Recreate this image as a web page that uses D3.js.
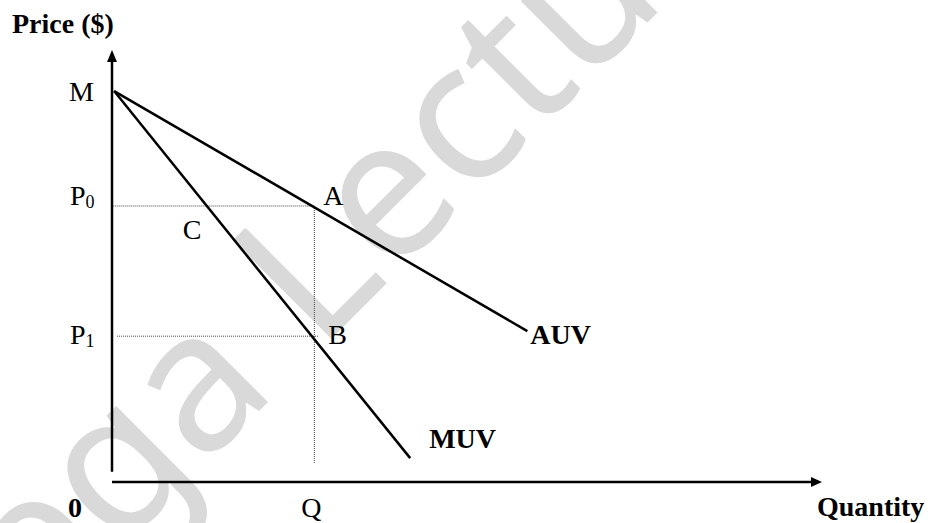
<!DOCTYPE html>
<html>
<head>
<meta charset="utf-8">
<script src="https://cdn.jsdelivr.net/npm/d3@7"></script>
<style>
  body { margin: 0; background: #fff; }
  text { font-family: "Liberation Serif", "Times New Roman", serif; }
</style>
</head>
<body>
<div id="chart"></div>
<script>

// data (price and quantity in arbitrary units)
const priceM = 100;
const priceLevels = [{name: "P", sub: "0", value: 70.6}, {name: "P", sub: "1", value: 37.3}];
const quantityQ = 28.5;
const auvLine = [[0.3, 100], [58.5, 38.6]];
const muvLine = [[0.3, 100], [42, 6.1]];
const curveNames = ["AUV", "MUV"];
const pointNames = ["A", "B", "C"];

const width = 939;
const height = 523;

const svg = d3.select("#chart")
    .append("svg")
    .attr("width", width)
    .attr("height", height)
    .attr("viewBox", [0, 0, width, height]);

const x = d3.scaleLinear().domain([0, 100]).range([112, 822]);
const y = d3.scaleLinear().domain([0, 110.5]).range([482, 50]);

// watermark
const wm = svg.append("g")
    .attr("transform", "translate(318,352) rotate(-45)")
    .attr("fill", "#d9d9d9")
    .style("font-family", "'Noto Sans', sans-serif")
    .style("font-size", "195px");
wm.append("text").attr("x", -55).attr("text-anchor", "end")
    .style("font-family", "'Noto Sans', sans-serif").text("Mega");
wm.append("text").attr("x", 0)
    .style("font-family", "'Noto Sans', sans-serif").text("Lecture");

// dotted guides
const dotted = svg.append("g")
    .attr("stroke", "#444")
    .attr("stroke-width", 1)
    .attr("stroke-dasharray", "1,1");

dotted.append("line")
    .attr("x1", x(0.1)).attr("x2", x(quantityQ))
    .attr("y1", y(priceLevels[0].value)).attr("y2", y(priceLevels[0].value));
dotted.append("line")
    .attr("x1", x(0.7)).attr("x2", x(quantityQ + 0.5))
    .attr("y1", y(priceLevels[1].value)).attr("y2", y(priceLevels[1].value));
dotted.append("line")
    .attr("x1", x(quantityQ)).attr("x2", x(quantityQ))
    .attr("y1", y(priceLevels[0].value)).attr("y2", y(4.9));

// axes
const axes = svg.append("g").attr("stroke", "#000").attr("stroke-width", 2.5);
axes.append("line")
    .attr("x1", x(0)).attr("x2", x(0))
    .attr("y1", y(2.6)).attr("y2", y(107.5));
axes.append("line")
    .attr("x1", x(0)).attr("x2", x(98.5))
    .attr("y1", y(0)).attr("y2", y(0));

svg.append("path")
    .attr("d", `M${x(0)},${y(110.5)} L${x(0) - 5},${y(110.5) + 12} L${x(0) + 5},${y(110.5) + 12} Z`)
    .attr("fill", "#000");
svg.append("path")
    .attr("d", `M${x(100)},${y(0)} L${x(100) - 11},${y(0) - 5} L${x(100) - 11},${y(0) + 5} Z`)
    .attr("fill", "#000");

// curves
const line = d3.line().x(d => x(d[0])).y(d => y(d[1]));
svg.selectAll(".curve")
    .data([auvLine, muvLine])
    .enter()
    .append("path")
    .attr("class", "curve")
    .attr("d", line)
    .attr("fill", "none")
    .attr("stroke", "#000")
    .attr("stroke-width", 2.5);

// where a straight curve reaches a price
function qAt(pts, p) {
    const [a, b] = pts;
    return a[0] + (p - a[1]) / (b[1] - a[1]) * (b[0] - a[0]);
}

// labels
const fs = 28;
function label(txt, px, py, anchor, bold) {
    return svg.append("text")
        .attr("x", px).attr("y", py)
        .attr("text-anchor", anchor || "start")
        .attr("font-weight", bold ? "bold" : "normal")
        .attr("font-size", fs)
        .text(txt);
}

label("Price ($)", 12, 33, "start", true);
label("M", x(0) - 18, y(priceM) + 10, "end");

priceLevels.forEach((d, i) => {
    const t = svg.append("text")
        .attr("x", x(0) - 42)
        .attr("y", y(d.value) + (i === 0 ? -1 : 8))
        .attr("font-size", fs);
    t.append("tspan").text(d.name);
    t.append("tspan").attr("font-size", 18).attr("dy", 3).text(d.sub);
});

label(pointNames[0], x(quantityQ) + 9, y(priceLevels[0].value) - 1);
label(pointNames[1], x(quantityQ) + 14, y(priceLevels[1].value) + 8);
label(pointNames[2], x(qAt(muvLine, priceLevels[0].value)) - 24, y(priceLevels[0].value) + 33);

label(curveNames[0], x(auvLine[1][0]) + 3, y(auvLine[1][1]) + 13, "start", true);
label(curveNames[1], x(muvLine[1][0]) + 19, y(muvLine[1][1]) - 10, "start", true);

label("0", x(0) - 44, y(0) + 35, "start", true);
label("Q", x(quantityQ) - 3, y(0) + 35, "middle");
label("Quantity", 817, y(0) + 34, "start", true);

</script>
</body>
</html>
